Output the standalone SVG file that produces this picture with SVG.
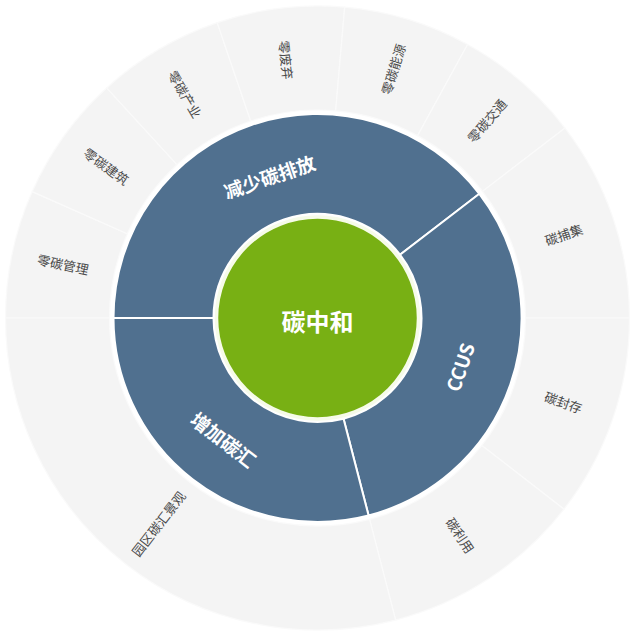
<svg xmlns="http://www.w3.org/2000/svg" width="637" height="640" viewBox="0 0 637 640">
<style>
.bg{fill:#ffffff}
.mid{fill:#50708f;stroke:#ffffff;stroke-width:2}
.out{fill:#f4f4f4;stroke:#fafafa;stroke-width:1.2}
.core{fill:#78b014;stroke:#f6fbe9;stroke-width:3.5}
.t-out{font-family:"Noto Sans CJK SC","Noto Sans",sans-serif;font-size:13px;fill:#4a4a4a;text-anchor:middle;dominant-baseline:central}
.t-mid{font-family:"Noto Sans CJK SC","Noto Sans",sans-serif;font-size:19px;font-weight:bold;fill:#ffffff;text-anchor:middle;dominant-baseline:central}
.t-core{font-family:"Noto Sans CJK SC","Noto Sans",sans-serif;font-size:24px;font-weight:bold;fill:#ffffff;text-anchor:middle;dominant-baseline:central}
</style>
<rect class="bg" x="0" y="0" width="637" height="640"/>

<g id="outer-ring">
  <g id="leaf-guanli">
    <path class="out" d="M5.5,318 A312,312 0 0 1 32.24,191.61 L127.33,233.74 A208,208 0 0 0 109.5,318 Z"/>
    <text class="t-out" transform="translate(63.1,264.2) rotate(11.95)">零碳管理</text>
  </g>
  <g id="leaf-jianzhu">
    <path class="out" d="M32.24,191.61 A312,312 0 0 1 106.71,87.96 L176.98,164.64 A208,208 0 0 0 127.33,233.74 Z"/>
    <text class="t-out" transform="translate(106.4,166.3) rotate(35.7)">零碳建筑</text>
  </g>
  <g id="leaf-chanye">
    <path class="out" d="M106.71,87.96 A312,312 0 0 1 217.22,22.57 L250.65,121.04 A208,208 0 0 0 176.98,164.64 Z"/>
    <text class="t-out" transform="translate(185.2,94.2) rotate(59.4)">零碳产业</text>
  </g>
  <g id="leaf-feiqi">
    <path class="out" d="M217.22,22.57 A312,312 0 0 1 344.71,7.19 L335.64,110.79 A208,208 0 0 0 250.65,121.04 Z"/>
    <text class="t-out" transform="translate(286.3,59.9) rotate(83.1)">零废弃</text>
  </g>
  <g id="leaf-nengyuan">
    <path class="out" d="M344.71,7.19 A312,312 0 0 1 467.57,44.47 L417.55,135.65 A208,208 0 0 0 335.64,110.79 Z"/>
    <text class="t-out" transform="translate(393.1,69.2) rotate(-73.1)">零碳能源</text>
  </g>
  <g id="leaf-jiaotong">
    <path class="out" d="M467.57,44.47 A312,312 0 0 1 565.04,128.05 L482.53,191.37 A208,208 0 0 0 417.55,135.65 Z"/>
    <text class="t-out" transform="translate(486.7,120.6) rotate(-49.4)">零碳交通</text>
  </g>
  <g id="leaf-buji">
    <path class="out" d="M565.04,128.05 A312,312 0 0 1 629.5,318 L525.5,318 A208,208 0 0 0 482.53,191.37 Z"/>
    <text class="t-out" transform="translate(563.7,234.4) rotate(-18.75)">碳捕集</text>
  </g>
  <g id="leaf-fengcun">
    <path class="out" d="M629.5,318 A312,312 0 0 1 564.04,509.22 L481.86,445.48 A208,208 0 0 0 525.5,318 Z"/>
    <text class="t-out" transform="translate(563.5,402.2) rotate(18.9)">碳封存</text>
  </g>
  <g id="leaf-liyong">
    <path class="out" d="M564.04,509.22 A312,312 0 0 1 395.62,620.05 L369.58,519.36 A208,208 0 0 0 481.86,445.48 Z"/>
    <text class="t-out" transform="translate(460.4,535.2) rotate(56.65)">碳利用</text>
  </g>
  <g id="leaf-jingguan">
    <path class="out" d="M395.62,620.05 A312,312 0 0 1 5.5,318 L109.5,318 A208,208 0 0 0 369.58,519.36 Z"/>
    <text class="t-out" transform="translate(158.3,523.6) rotate(-52.25)">园区碳汇景观</text>
  </g>
</g>

<g id="middle-ring">
  <g id="node-jianshao">
    <path class="mid" d="M113.5,318 A204,204 0 0 1 479.35,193.8 L400.01,254.68 A104,104 0 0 0 213.5,318 Z"/>
    <text class="t-mid" transform="translate(269.3,176) rotate(-18.75)">减少碳排放</text>
  </g>
  <g id="node-ccus">
    <path class="mid" d="M479.35,193.8 A204,204 0 0 1 368.58,515.49 L343.54,418.68 A104,104 0 0 0 400.01,254.68 Z"/>
    <text class="t-mid" transform="translate(459.3,366.8) rotate(-71)">CCUS</text>
  </g>
  <g id="node-zengjia">
    <path class="mid" d="M368.58,515.49 A204,204 0 0 1 113.5,318 L213.5,318 A104,104 0 0 0 343.54,418.68 Z"/>
    <text class="t-mid" transform="translate(224,439) rotate(37.75)">增加碳汇</text>
  </g>
</g>

<g id="node-center">
  <circle class="core" cx="317.5" cy="318" r="101"/>
  <text class="t-core" x="317.5" y="320">碳中和</text>
</g>
</svg>
